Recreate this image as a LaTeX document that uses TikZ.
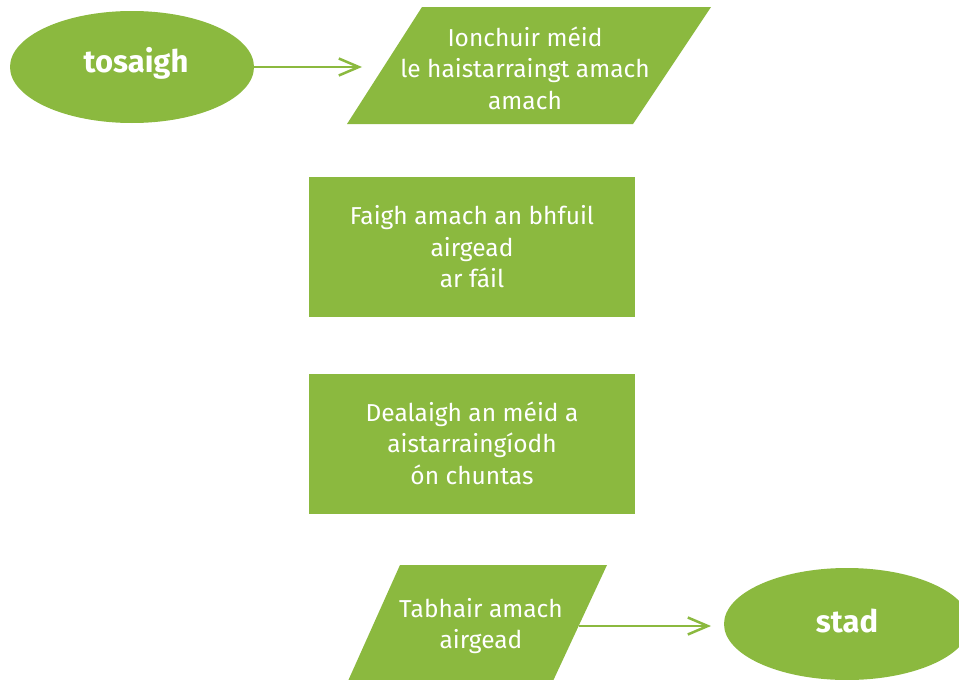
\documentclass[tikz,border=0pt]{standalone}
\usepackage{fontspec}
\setmainfont{Fira Sans}
\usetikzlibrary{arrows.meta}
\definecolor{fgreen}{HTML}{8BB93F}
\begin{document}
\begin{tikzpicture}[x=1pt,y=-1pt,
  txt/.style={text=white,font=\fontsize{24.5}{31.5}\selectfont,align=center,inner sep=0pt},
  bold/.style={text=white,font=\fontsize{31}{34}\bfseries\selectfont,inner sep=0pt},
  conn/.style={draw=fgreen,line width=2.5pt,-{Straight Barb[length=20pt,width=17pt,line width=2.5pt]}},
  blk/.style={fill=fgreen,draw=none}]
\useasboundingbox (0,0) rectangle (959,680);
% start ellipse
\fill[fgreen] (132,67) ellipse [x radius=122,y radius=56];
\node[bold] (tosaigh) at (136,63) {tosaigh};
\coordinate (tosE) at (254,67);
% input parallelogram
\fill[fgreen] (422,7) -- (711,7) -- (633,124) -- (347,124) -- cycle;
\node[txt] (in1) at (525,68) {Ionchuir méid\\le haistarraingt amach\\amach};
\coordinate (in1W) at (362,67);
\draw[conn] (tosE) -- (in1W);
% process 1
\fill[fgreen] (309,177) rectangle (635,317);
\node[txt] (p1) at (472,247) {Faigh amach an bhfuil\\airgead\\ar fáil};
% process 2
\fill[fgreen] (309,374) rectangle (635,514);
\node[txt] (p2) at (472,443) {Dealaigh an méid a\\aistarraingíodh\\ón chuntas};
% output parallelogram
\fill[fgreen] (400,565) -- (607,565) -- (553,681) -- (348,681) -- cycle;
\node[txt] (out) at (481,626) {Tabhair amach\\airgead};
\coordinate (outE) at (579,626);
% end ellipse
\fill[fgreen] (847,624) ellipse [x radius=123,y radius=56];
\node[bold] (stad) at (847,621) {stad};
\coordinate (stadW) at (711,626);
\draw[conn] (outE) -- (stadW);
\end{tikzpicture}
\end{document}
